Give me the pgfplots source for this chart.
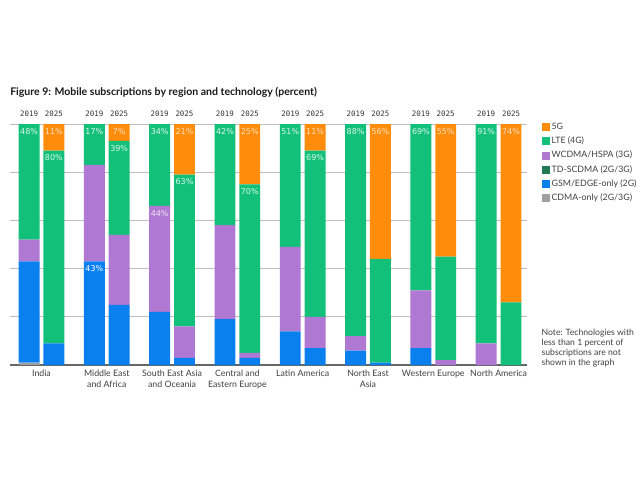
\documentclass[border=0pt]{standalone}
\usepackage{pgfplots}
\pgfplotsset{compat=1.18}
\usepackage{fontspec}
\setmainfont{Lato}
\setsansfont{DejaVu Sans}
\setmonofont{DejaVu Sans Mono}
\definecolor{cFiveG}{HTML}{FF8C0A}
\definecolor{cLTE}{HTML}{12C07A}
\definecolor{cWCDMA}{HTML}{AF78D2}
\definecolor{cTD}{HTML}{1F7A55}
\definecolor{cGSM}{HTML}{0A80EE}
\definecolor{cCDMA}{HTML}{A0A0A0}
\tikzset{
  yr/.style={anchor=base, font=\fontsize{5.6}{6}\ttfamily, text=black!80, inner sep=0pt, yshift=5.5pt},
  vl/.style={anchor=center, font=\fontsize{6}{6}\sffamily, inner sep=0pt, yshift=-5.5pt},
}
\pgfplotsset{base/.style={
  at={(7.5pt,86.25pt)}, anchor=south west,
  scale only axis, width=387.75pt, height=180.75pt,
  xmin=-0.482, xmax=7.435, ymin=0, ymax=100, clip=false}}
\begin{document}
\begin{tikzpicture}
\path[use as bounding box] (0,0) rectangle (480pt,360pt);
\node[anchor=base west, inner sep=0pt, font=\fontsize{7.9}{10}\selectfont\bfseries, text=black!90] at (7.5pt,288.75pt) {Figure 9: Mobile subscriptions by region and technology (percent)};
\node[anchor=north west, align=left, font=\fontsize{6.5}{7.5}\selectfont, text=black!75, inner sep=0pt] at (406pt,113pt) {Note: Technologies with\\less than 1 percent of\\subscriptions are not\\shown in the graph};
\begin{axis}[
  base,
  ybar stacked, bar width=0.32,
  ytick={20,40,60,80,100}, yticklabels={}, ymajorgrids,
  major grid style={black!25, line width=0.6pt},
  xtick={0,...,7},
  xticklabels={India,{Middle East\\and Africa},{South East Asia\\and Oceania},{Central and\\Eastern Europe},Latin America,{North East\\Asia},Western Europe,North America},
  xtick style={draw=none}, ytick style={draw=none},
  axis x line*=bottom, axis y line*=left,
  y axis line style={draw=none},
  x axis line style={black!60, line width=1pt},
  xticklabel style={align=center, font=\fontsize{6.6}{8.25}\selectfont, text=black!75},
  legend cell align=left,
  legend style={draw=none, fill=none, at={(1.02,1.025)}, anchor=north west,
    font=\fontsize{6.6}{7}\selectfont, text=black!75, row sep=1.5pt,
    nodes={inner sep=1.5pt, text height=4.8pt, text depth=1.4pt}},
  legend image code/.code={\fill[#1] (0pt,-3pt) rectangle (6pt,3pt);},
]
\addlegendimage{fill=cFiveG, draw=none}
\addlegendentry{5G}
\addlegendimage{fill=cLTE, draw=none}
\addlegendentry{LTE (4G)}
\addlegendimage{fill=cWCDMA, draw=none}
\addlegendentry{WCDMA/HSPA (3G)}
\addlegendimage{fill=cTD, draw=none}
\addlegendentry{TD-SCDMA (2G/3G)}
\addlegendimage{fill=cGSM, draw=none}
\addlegendentry{GSM/EDGE-only (2G)}
\addlegendimage{fill=cCDMA, draw=none}
\addlegendentry{CDMA-only (2G/3G)}
\addplot[fill=cCDMA, draw=none, forget plot] coordinates {
(-0.19,1) (0.19,0) (0.81,0) (1.19,0) (1.81,0) (2.19,0) (2.81,0) (3.19,0)
(3.81,0) (4.19,0) (4.81,0) (5.19,0) (5.81,0) (6.19,0) (6.81,0) (7.19,0)};
\addplot[fill=cGSM, draw=none, forget plot] coordinates {
(-0.19,42) (0.19,9) (0.81,43) (1.19,25) (1.81,22) (2.19,3) (2.81,19) (3.19,3)
(3.81,14) (4.19,7) (4.81,6) (5.19,1) (5.81,7) (6.19,0) (6.81,0) (7.19,0)};
\addplot[fill=cWCDMA, draw=none, forget plot] coordinates {
(-0.19,9) (0.19,0) (0.81,40) (1.19,29) (1.81,44) (2.19,13) (2.81,39) (3.19,2)
(3.81,35) (4.19,13) (4.81,6) (5.19,0) (5.81,24) (6.19,2) (6.81,9) (7.19,0)};
\addplot[fill=cLTE, draw=none, forget plot] coordinates {
(-0.19,48) (0.19,80) (0.81,17) (1.19,39) (1.81,34) (2.19,63) (2.81,42) (3.19,70)
(3.81,51) (4.19,69) (4.81,88) (5.19,43) (5.81,69) (6.19,43) (6.81,91) (7.19,26)};
\addplot[fill=cFiveG, draw=none, forget plot] coordinates {
(-0.19,0) (0.19,11) (0.81,0) (1.19,7) (1.81,0) (2.19,21) (2.81,0) (3.19,25)
(3.81,0) (4.19,11) (4.81,0) (5.19,56) (5.81,0) (6.19,55) (6.81,0) (7.19,74)};
\end{axis}
\begin{axis}[base, hide axis]
\node[yr] at (axis cs:-0.19,100) {2019}; \node[yr] at (axis cs:0.19,100) {2025};
\node[yr] at (axis cs:0.81,100) {2019}; \node[yr] at (axis cs:1.19,100) {2025};
\node[yr] at (axis cs:1.81,100) {2019}; \node[yr] at (axis cs:2.19,100) {2025};
\node[yr] at (axis cs:2.81,100) {2019}; \node[yr] at (axis cs:3.19,100) {2025};
\node[yr] at (axis cs:3.81,100) {2019}; \node[yr] at (axis cs:4.19,100) {2025};
\node[yr] at (axis cs:4.81,100) {2019}; \node[yr] at (axis cs:5.19,100) {2025};
\node[yr] at (axis cs:5.81,100) {2019}; \node[yr] at (axis cs:6.19,100) {2025};
\node[yr] at (axis cs:6.81,100) {2019}; \node[yr] at (axis cs:7.19,100) {2025};
\node[vl, text=white!85!cLTE] at (axis cs:-0.19,100) {48\%};
\node[vl, text=white!85!cLTE] at (axis cs:0.19,89) {80\%};
\node[vl, text=white!85!cLTE] at (axis cs:0.81,100) {17\%};
\node[vl, text=white!85!cLTE] at (axis cs:1.19,93) {39\%};
\node[vl, text=white!85!cLTE] at (axis cs:1.81,100) {34\%};
\node[vl, text=white!85!cLTE] at (axis cs:2.19,79) {63\%};
\node[vl, text=white!85!cLTE] at (axis cs:2.81,100) {42\%};
\node[vl, text=white!85!cLTE] at (axis cs:3.19,75) {70\%};
\node[vl, text=white!85!cLTE] at (axis cs:3.81,100) {51\%};
\node[vl, text=white!85!cLTE] at (axis cs:4.19,89) {69\%};
\node[vl, text=white!85!cLTE] at (axis cs:4.81,100) {88\%};
\node[vl, text=white!85!cLTE] at (axis cs:5.81,100) {69\%};
\node[vl, text=white!85!cLTE] at (axis cs:6.81,100) {91\%};
\node[vl, text=white!75!cFiveG] at (axis cs:0.19,100) {11\%};
\node[vl, text=white!75!cFiveG] at (axis cs:1.19,100) {7\%};
\node[vl, text=white!75!cFiveG] at (axis cs:2.19,100) {21\%};
\node[vl, text=white!75!cFiveG] at (axis cs:3.19,100) {25\%};
\node[vl, text=white!75!cFiveG] at (axis cs:4.19,100) {11\%};
\node[vl, text=white!75!cFiveG] at (axis cs:5.19,100) {56\%};
\node[vl, text=white!75!cFiveG] at (axis cs:6.19,100) {55\%};
\node[vl, text=white!75!cFiveG] at (axis cs:7.19,100) {74\%};
\node[vl, text=white!80!cWCDMA] at (axis cs:1.81,66) {44\%};
\node[vl, text=white] at (axis cs:0.81,43) {43\%};
\end{axis}
\end{tikzpicture}
\end{document}
